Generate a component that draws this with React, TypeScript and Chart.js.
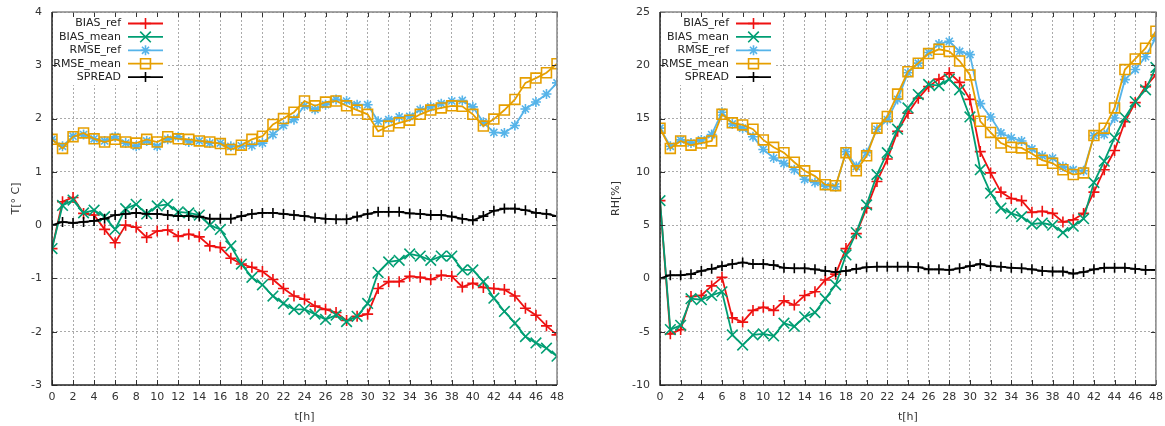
import React, { useEffect, useRef } from 'react';
import { Chart, registerables } from 'chart.js';
Chart.register(...registerables);

const HOURS = [0,1,2,3,4,5,6,7,8,9,10,11,12,13,14,15,16,17,18,19,20,21,22,23,24,25,26,27,28,29,30,31,32,33,34,35,36,37,38,39,40,41,42,43,44,45,46,47,48];

const SERIES_NAMES = ['BIAS_ref', 'BIAS_mean', 'RMSE_ref', 'RMSE_mean', 'SPREAD'];

const T_BIAS_REF = [-0.44,0.44,0.52,0.22,0.19,-0.08,-0.33,0.0,-0.04,-0.23,-0.11,-0.09,-0.21,-0.17,-0.22,-0.39,-0.42,-0.62,-0.73,-0.79,-0.87,-1.02,-1.19,-1.33,-1.39,-1.52,-1.58,-1.64,-1.79,-1.71,-1.67,-1.19,-1.06,-1.06,-0.96,-0.98,-1.02,-0.94,-0.96,-1.16,-1.09,-1.17,-1.19,-1.21,-1.33,-1.56,-1.69,-1.89,-2.06];
const T_BIAS_MEAN = [-0.44,0.37,0.47,0.23,0.28,0.16,-0.08,0.31,0.39,0.21,0.36,0.39,0.25,0.23,0.19,0.0,-0.08,-0.39,-0.73,-0.98,-1.12,-1.33,-1.47,-1.58,-1.58,-1.67,-1.77,-1.69,-1.81,-1.71,-1.47,-0.89,-0.69,-0.66,-0.54,-0.58,-0.66,-0.58,-0.58,-0.84,-0.84,-1.06,-1.37,-1.62,-1.84,-2.09,-2.21,-2.31,-2.46];
const T_RMSE_REF = [1.61,1.48,1.67,1.70,1.62,1.58,1.66,1.54,1.48,1.58,1.48,1.61,1.66,1.56,1.58,1.54,1.54,1.48,1.49,1.49,1.54,1.70,1.87,1.98,2.24,2.17,2.26,2.36,2.33,2.26,2.26,1.95,1.98,2.03,2.04,2.17,2.22,2.28,2.33,2.34,2.22,1.93,1.74,1.73,1.87,2.18,2.31,2.46,2.67];
const T_RMSE_MEAN = [1.61,1.44,1.66,1.73,1.62,1.56,1.61,1.56,1.54,1.61,1.56,1.66,1.62,1.61,1.58,1.56,1.53,1.42,1.50,1.61,1.67,1.89,2.00,2.12,2.33,2.24,2.31,2.33,2.24,2.16,2.08,1.76,1.86,1.92,1.97,2.08,2.16,2.20,2.24,2.23,2.08,1.86,1.99,2.16,2.36,2.67,2.76,2.86,3.03];
const T_SPREAD = [0.0,0.06,0.04,0.06,0.08,0.12,0.19,0.21,0.23,0.21,0.21,0.19,0.17,0.17,0.16,0.12,0.12,0.12,0.17,0.21,0.23,0.23,0.21,0.19,0.17,0.14,0.12,0.11,0.11,0.16,0.21,0.25,0.25,0.25,0.22,0.21,0.19,0.19,0.16,0.12,0.09,0.17,0.27,0.31,0.31,0.28,0.23,0.21,0.17];

const RH_BIAS_REF = [7.3,-5.2,-4.8,-1.7,-1.6,-0.7,0.1,-3.7,-4.1,-3.0,-2.7,-3.0,-2.1,-2.5,-1.6,-1.25,-0.15,0.4,2.8,4.2,6.6,9.1,11.2,13.8,15.5,16.9,18.0,18.7,19.3,18.4,16.8,11.9,9.9,8.1,7.5,7.3,6.2,6.3,6.1,5.3,5.5,6.1,8.1,10.2,12.0,14.7,16.5,18.0,19.1];
const RH_BIAS_MEAN = [7.3,-4.8,-4.4,-1.9,-2.0,-1.6,-1.25,-5.3,-6.25,-5.3,-5.2,-5.4,-4.2,-4.5,-3.6,-3.2,-1.9,-0.6,2.2,4.3,6.9,9.75,11.8,14.0,16.0,17.25,18.2,18.1,18.7,17.7,15.15,10.2,8.0,6.6,6.1,5.8,5.1,5.2,5.0,4.3,4.9,5.6,9.0,11.0,13.2,15.1,16.6,17.7,19.8];
const RH_RMSE_REF = [14.1,12.4,13.0,12.7,13.0,13.5,15.6,14.5,14.1,13.3,12.1,11.3,10.8,10.2,9.3,9.0,8.65,8.6,11.9,10.5,11.8,14.0,14.9,16.8,19.3,20.2,21.2,22.0,22.25,21.3,21.0,16.4,15.15,13.65,13.2,12.9,12.15,11.5,11.3,10.5,10.2,10.1,13.4,13.5,15.05,18.65,19.6,20.8,22.6];
const RH_RMSE_MEAN = [14.1,12.2,12.9,12.5,12.7,12.9,15.4,14.6,14.4,14.0,13.0,12.3,11.8,10.9,10.1,9.6,8.8,8.7,11.8,10.1,11.5,14.1,15.2,17.3,19.4,20.2,21.1,21.5,21.3,20.4,19.1,14.75,13.7,12.7,12.3,12.25,11.7,11.1,10.8,10.2,9.75,9.9,13.4,14.1,16.0,19.6,20.6,21.6,23.2];
const RH_SPREAD = [0.0,0.3,0.3,0.4,0.7,0.9,1.15,1.35,1.5,1.35,1.35,1.25,1.0,0.95,0.95,0.85,0.7,0.6,0.7,0.9,1.05,1.1,1.1,1.1,1.1,1.05,0.85,0.85,0.8,0.95,1.15,1.35,1.15,1.1,1.0,0.95,0.85,0.7,0.65,0.65,0.45,0.6,0.85,1.0,1.0,1.0,0.9,0.8,0.8];

const COLORS = ['#ee1111', '#009e73', '#56b4e9', '#e69f00', '#000000'];
const STYLES = ['cross', 'crossRot', 'star', 'rect', 'cross'];
const RADII = [5.5, 7.5, 5, 7, 5];

const FONT = { family: 'DejaVu Sans', size: 11 };
const TEXT = '#333333';

function drawMarker(ctx: CanvasRenderingContext2D, style: string, x: number, y: number, r: number) {
  ctx.beginPath();
  if (style === 'cross' || style === 'star') {
    ctx.moveTo(x - r, y); ctx.lineTo(x + r, y);
    ctx.moveTo(x, y - r); ctx.lineTo(x, y + r);
  }
  if (style === 'crossRot' || style === 'star') {
    const d = r * Math.SQRT1_2;
    ctx.moveTo(x - d, y - d); ctx.lineTo(x + d, y + d);
    ctx.moveTo(x - d, y + d); ctx.lineTo(x + d, y - d);
  }
  if (style === 'rect') {
    const s = r * Math.SQRT1_2;
    ctx.rect(x - s, y - s, 2 * s, 2 * s);
  }
  ctx.stroke();
}

const framePlugin = {
  id: 'gnuframe',
  afterDatasetsDraw(chart: any) {
    const { ctx, chartArea: a, scales } = chart;
    const xs = scales.x, ys = scales.y;
    ctx.save();
    // opaque key box
    ctx.fillStyle = '#ffffff';
    ctx.fillRect(a.left + 1, a.top + 1, 113, 72);
    // tick marks (mirrored)
    ctx.strokeStyle = '#333333';
    ctx.lineWidth = 1;
    ctx.beginPath();
    xs.ticks.forEach((t: any) => {
      const px = Math.round(xs.getPixelForValue(t.value)) + 0.5;
      ctx.moveTo(px, a.bottom); ctx.lineTo(px, a.bottom - 5);
      ctx.moveTo(px, a.top); ctx.lineTo(px, a.top + 5);
    });
    ys.ticks.forEach((t: any) => {
      const py = Math.round(ys.getPixelForValue(t.value)) + 0.5;
      ctx.moveTo(a.left, py); ctx.lineTo(a.left + 5, py);
      ctx.moveTo(a.right, py); ctx.lineTo(a.right - 5, py);
    });
    ctx.stroke();
    // border
    ctx.lineWidth = 1.5;
    ctx.strokeStyle = '#888888';
    ctx.beginPath();
    ctx.moveTo(a.left, a.top); ctx.lineTo(a.right, a.top); ctx.lineTo(a.right, a.bottom);
    ctx.stroke();
    ctx.strokeStyle = '#222222';
    ctx.beginPath();
    ctx.moveTo(a.left, a.top); ctx.lineTo(a.left, a.bottom); ctx.lineTo(a.right, a.bottom);
    ctx.stroke();
    // key
    ctx.font = '11px "DejaVu Sans"';
    ctx.textAlign = 'right';
    ctx.textBaseline = 'middle';
    chart.data.datasets.forEach((ds: any, i: number) => {
      const y = a.top + 11.5 + i * 13.4;
      ctx.fillStyle = '#222222';
      ctx.fillText(ds.label, a.left + 69, y);
      ctx.strokeStyle = ds.borderColor;
      ctx.lineWidth = 1.8;
      ctx.beginPath();
      ctx.moveTo(a.left + 76, y); ctx.lineTo(a.left + 111, y);
      ctx.stroke();
      ctx.lineWidth = 1.6;
      drawMarker(ctx, STYLES[i], a.left + 93.5, y, RADII[i]);
    });
    ctx.restore();
  },
};

function makeConfig(series: number[][], yMin: number, yMax: number, yStep: number, yTitle: string, yWidth: number, padRight: number): any {
  const datasets = series.map((vals, i) => ({
    label: SERIES_NAMES[i],
    data: HOURS.map((h, j) => ({ x: h, y: vals[j] })),
    borderColor: COLORS[i],
    backgroundColor: 'rgba(0,0,0,0)',
    borderWidth: 1.8,
    pointStyle: STYLES[i],
    pointRadius: RADII[i],
    pointBorderWidth: 1.6,
    pointBorderColor: COLORS[i],
    pointBackgroundColor: 'rgba(0,0,0,0)',
    tension: 0,
    order: 5 - i,
  }));
  return {
    type: 'line',
    data: { datasets },
    options: {
      responsive: false,
      animation: false,
      layout: { padding: { top: 12, right: padRight, bottom: 0, left: 0 } },
      plugins: { legend: { display: false }, tooltip: { enabled: false } },
      scales: {
        x: {
          type: 'linear',
          min: 0,
          max: 48,
          ticks: { stepSize: 2, padding: 6, color: TEXT, font: FONT, maxRotation: 0, autoSkip: false },
          grid: { color: '#aaaaaa', lineWidth: 1, drawTicks: false },
          border: { display: false, dash: [2, 2] },
          title: { display: true, text: 't[h]', color: TEXT, font: FONT, padding: { top: 0, bottom: 2 } },
          afterFit(s: any) { s.height = 41; s.paddingLeft = 0; s.paddingRight = 0; },
        },
        y: {
          type: 'linear',
          min: yMin,
          max: yMax,
          ticks: { stepSize: yStep, padding: 10, color: TEXT, font: FONT },
          grid: { color: '#aaaaaa', lineWidth: 1, drawTicks: false },
          border: { display: false, dash: [2, 2] },
          title: { display: true, text: yTitle, color: TEXT, font: FONT, padding: { top: 10, bottom: 0 } },
          afterFit(s: any) { s.width = yWidth; s.paddingTop = 0; s.paddingBottom = 0; },
        },
      },
    },
    plugins: [framePlugin],
  };
}

function Panel({ left, width, config }: { left: number; width: number; config: any }) {
  const ref = useRef<HTMLCanvasElement | null>(null);
  useEffect(() => {
    const chart = new Chart(ref.current as HTMLCanvasElement, config);
    return () => chart.destroy();
  }, []);
  return (
    <div style={{ position: 'absolute', left, top: 0, width, height: 426 }}>
      <canvas ref={ref} width={width} height={426} style={{ width, height: 426, display: 'block' }} />
    </div>
  );
}

export default function App() {
  const tConfig = makeConfig([T_BIAS_REF, T_BIAS_MEAN, T_RMSE_REF, T_RMSE_MEAN, T_SPREAD], -3, 4, 1, 'T[° C]', 52, 23);
  const rhConfig = makeConfig([RH_BIAS_REF, RH_BIAS_MEAN, RH_RMSE_REF, RH_RMSE_MEAN, RH_SPREAD], -10, 25, 5, 'RH[%]', 60, 7);
  return (
    <div style={{ position: 'fixed', left: 0, top: 0, width: 1165, height: 426, background: '#ffffff', overflow: 'hidden' }}>
      <Panel left={0} width={580} config={tConfig} />
      <Panel left={600} width={565} config={rhConfig} />
    </div>
  );
}
